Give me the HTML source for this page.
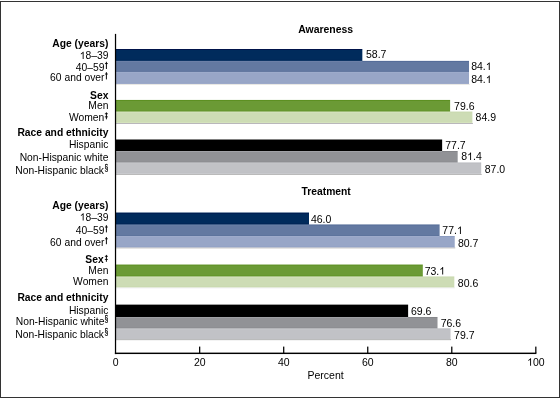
<!DOCTYPE html>
<html><head><meta charset="utf-8"><style>
html,body{margin:0;padding:0;background:#fff;}
svg{display:block;will-change:transform;}
text{font-family:"Liberation Sans",sans-serif;fill:#000;}
</style></head><body>
<svg width="560" height="398" viewBox="0 0 560 398">
<rect x="0" y="0" width="560" height="398" fill="#fff"/>
<g shape-rendering="crispEdges" fill="#333">
<rect x="0" y="1" width="560" height="1"/>
<rect x="0" y="397" width="560" height="1"/>
<rect x="0" y="1" width="1" height="397"/>
<rect x="559" y="1" width="1" height="397"/>
</g>
<g shape-rendering="crispEdges">
<rect x="116" y="49" width="246" height="1" fill="#00134a"/>
<rect x="362" y="49" width="1" height="1" fill="#9fafc1"/>
<rect x="116" y="50" width="246" height="9" fill="#002b5c"/>
<rect x="362" y="50" width="1" height="9" fill="#a8b7c8"/>
<rect x="116" y="59" width="246" height="1" fill="#00295a"/>
<rect x="362" y="59" width="1" height="1" fill="#aab8c8"/>
<rect x="116" y="60" width="246" height="1" fill="#0d3565"/>
<rect x="362" y="60" width="1" height="1" fill="#9fafc2"/>
<rect x="363" y="60" width="106" height="1" fill="#eaedf3"/>
<rect x="116" y="61" width="246" height="1" fill="#6c80a7"/>
<rect x="362" y="61" width="1" height="1" fill="#5d739e"/>
<rect x="363" y="61" width="106" height="1" fill="#556d99"/>
<rect x="469" y="61" width="1" height="1" fill="#fcfcfd"/>
<rect x="116" y="62" width="353" height="8" fill="#6379a1"/>
<rect x="469" y="62" width="1" height="8" fill="#fcfcfd"/>
<rect x="116" y="70" width="353" height="1" fill="#6278a1"/>
<rect x="469" y="70" width="1" height="1" fill="#fcfcfd"/>
<rect x="116" y="71" width="353" height="1" fill="#6479a1"/>
<rect x="469" y="71" width="1" height="1" fill="#fcfcfd"/>
<rect x="116" y="72" width="353" height="1" fill="#9dabcb"/>
<rect x="469" y="72" width="1" height="1" fill="#fdfdfe"/>
<rect x="116" y="73" width="353" height="9" fill="#98a6c7"/>
<rect x="469" y="73" width="1" height="9" fill="#fdfdfe"/>
<rect x="116" y="82" width="353" height="1" fill="#97a5c6"/>
<rect x="469" y="82" width="1" height="1" fill="#fdfdfe"/>
<rect x="116" y="83" width="353" height="1" fill="#9ca9ca"/>
<rect x="469" y="83" width="1" height="1" fill="#fdfdfe"/>
<rect x="116" y="84" width="353" height="1" fill="#e9e8e4"/>
<rect x="469" y="84" width="1" height="1" fill="#efefef"/>
<rect x="116" y="99" width="334" height="1" fill="#f4f8f1"/>
<rect x="450" y="99" width="1" height="1" fill="#fefefd"/>
<rect x="116" y="100" width="334" height="1" fill="#5d9022"/>
<rect x="450" y="100" width="1" height="1" fill="#ecf2e4"/>
<rect x="116" y="101" width="334" height="9" fill="#6b9a35"/>
<rect x="450" y="101" width="1" height="9" fill="#edf3e7"/>
<rect x="116" y="110" width="334" height="1" fill="#65962e"/>
<rect x="450" y="110" width="1" height="1" fill="#eff4ea"/>
<rect x="116" y="111" width="334" height="1" fill="#9cbb75"/>
<rect x="450" y="111" width="1" height="1" fill="#dde7ce"/>
<rect x="451" y="111" width="21" height="1" fill="#e6eeda"/>
<rect x="472" y="111" width="1" height="1" fill="#f5f8f1"/>
<rect x="116" y="112" width="334" height="1" fill="#d3e0bc"/>
<rect x="450" y="112" width="1" height="1" fill="#cbdbb2"/>
<rect x="451" y="112" width="21" height="1" fill="#cadab1"/>
<rect x="472" y="112" width="1" height="1" fill="#ebf1e1"/>
<rect x="116" y="113" width="356" height="8" fill="#cddcb5"/>
<rect x="472" y="113" width="1" height="8" fill="#ecf2e3"/>
<rect x="116" y="121" width="356" height="1" fill="#cddcb4"/>
<rect x="472" y="121" width="1" height="1" fill="#ecf2e3"/>
<rect x="116" y="122" width="356" height="1" fill="#d4e2bc"/>
<rect x="472" y="122" width="1" height="1" fill="#edf3e4"/>
<rect x="116" y="123" width="356" height="1" fill="#b9b7bb"/>
<rect x="472" y="123" width="1" height="1" fill="#bfbfc0"/>
<rect x="116" y="139" width="326" height="1" fill="#808080"/>
<rect x="442" y="139" width="1" height="1" fill="#ededed"/>
<rect x="116" y="140" width="326" height="1" fill="#000000"/>
<rect x="442" y="140" width="1" height="1" fill="#d9d9d9"/>
<rect x="116" y="141" width="326" height="9" fill="#000000"/>
<rect x="442" y="141" width="1" height="9" fill="#dbdbdb"/>
<rect x="116" y="150" width="326" height="1" fill="#000000"/>
<rect x="442" y="150" width="1" height="1" fill="#e4e4e3"/>
<rect x="116" y="151" width="326" height="1" fill="#a1a2a7"/>
<rect x="442" y="151" width="1" height="1" fill="#898a8e"/>
<rect x="443" y="151" width="14" height="1" fill="#85868a"/>
<rect x="457" y="151" width="1" height="1" fill="#acadb0"/>
<rect x="116" y="152" width="341" height="9" fill="#919296"/>
<rect x="457" y="152" width="1" height="9" fill="#b4b5b8"/>
<rect x="116" y="161" width="341" height="1" fill="#8e8f93"/>
<rect x="457" y="161" width="1" height="1" fill="#b3b4b7"/>
<rect x="116" y="162" width="341" height="1" fill="#afb0b4"/>
<rect x="457" y="162" width="1" height="1" fill="#bcbdc1"/>
<rect x="458" y="162" width="23" height="1" fill="#d8d9dc"/>
<rect x="481" y="162" width="1" height="1" fill="#f7f7f8"/>
<rect x="116" y="163" width="341" height="1" fill="#c3c4c8"/>
<rect x="457" y="163" width="1" height="1" fill="#c2c3c7"/>
<rect x="458" y="163" width="23" height="1" fill="#bebfc3"/>
<rect x="481" y="163" width="1" height="1" fill="#f2f2f3"/>
<rect x="116" y="164" width="365" height="8" fill="#c1c2c6"/>
<rect x="481" y="164" width="1" height="8" fill="#f3f3f4"/>
<rect x="116" y="172" width="365" height="1" fill="#c0c1c5"/>
<rect x="481" y="172" width="1" height="1" fill="#f3f3f4"/>
<rect x="116" y="173" width="365" height="1" fill="#c8c9cd"/>
<rect x="481" y="173" width="1" height="1" fill="#f3f3f4"/>
<rect x="116" y="174" width="365" height="1" fill="#bababa"/>
<rect x="481" y="174" width="1" height="1" fill="#cccccc"/>
<rect x="116" y="212" width="193" height="1" fill="#8095ae"/>
<rect x="116" y="213" width="193" height="1" fill="#001f53"/>
<rect x="116" y="214" width="193" height="9" fill="#002b5c"/>
<rect x="116" y="223" width="193" height="1" fill="#002657"/>
<rect x="116" y="224" width="193" height="1" fill="#3e5c87"/>
<rect x="309" y="224" width="130" height="1" fill="#9eacc4"/>
<rect x="439" y="224" width="1" height="1" fill="#c3cbdb"/>
<rect x="116" y="225" width="193" height="1" fill="#677da4"/>
<rect x="309" y="225" width="130" height="1" fill="#5c739d"/>
<rect x="439" y="225" width="1" height="1" fill="#9aa8c2"/>
<rect x="116" y="226" width="323" height="9" fill="#6379a1"/>
<rect x="439" y="226" width="1" height="9" fill="#9eacc5"/>
<rect x="116" y="235" width="323" height="1" fill="#5d749d"/>
<rect x="439" y="235" width="1" height="1" fill="#9fadc4"/>
<rect x="116" y="236" width="323" height="1" fill="#9eabcb"/>
<rect x="439" y="236" width="1" height="1" fill="#97a5c7"/>
<rect x="440" y="236" width="14" height="1" fill="#8c9cc1"/>
<rect x="454" y="236" width="1" height="1" fill="#aab6d1"/>
<rect x="116" y="237" width="338" height="9" fill="#98a6c7"/>
<rect x="454" y="237" width="1" height="9" fill="#b3bdd6"/>
<rect x="116" y="246" width="338" height="1" fill="#94a3c6"/>
<rect x="454" y="246" width="1" height="1" fill="#b1bcd6"/>
<rect x="116" y="247" width="338" height="1" fill="#bdc2cf"/>
<rect x="454" y="247" width="1" height="1" fill="#c2c6cf"/>
<rect x="455" y="247" width="1" height="1" fill="#f4f4f4"/>
<rect x="116" y="248" width="338" height="1" fill="#e5e4e3"/>
<rect x="454" y="248" width="1" height="1" fill="#e4e4e3"/>
<rect x="455" y="248" width="1" height="1" fill="#f8f8f8"/>
<rect x="116" y="264" width="306" height="1" fill="#b5cc9a"/>
<rect x="422" y="264" width="1" height="1" fill="#c2d6ac"/>
<rect x="116" y="265" width="306" height="1" fill="#63942a"/>
<rect x="422" y="265" width="1" height="1" fill="#7fa850"/>
<rect x="116" y="266" width="306" height="9" fill="#6b9a35"/>
<rect x="422" y="266" width="1" height="9" fill="#86ac59"/>
<rect x="116" y="275" width="306" height="1" fill="#64962c"/>
<rect x="422" y="275" width="1" height="1" fill="#81a953"/>
<rect x="116" y="276" width="306" height="1" fill="#a8c385"/>
<rect x="422" y="276" width="1" height="1" fill="#b2ca92"/>
<rect x="423" y="276" width="31" height="1" fill="#e0e9d1"/>
<rect x="454" y="276" width="1" height="1" fill="#f5f8f0"/>
<rect x="116" y="277" width="306" height="1" fill="#d1dfbb"/>
<rect x="422" y="277" width="1" height="1" fill="#d0deb9"/>
<rect x="423" y="277" width="31" height="1" fill="#cbdab2"/>
<rect x="454" y="277" width="1" height="1" fill="#eef3e6"/>
<rect x="116" y="278" width="338" height="8" fill="#cddcb5"/>
<rect x="454" y="278" width="1" height="8" fill="#eff4e7"/>
<rect x="116" y="286" width="338" height="1" fill="#cadab1"/>
<rect x="454" y="286" width="1" height="1" fill="#eff4e7"/>
<rect x="116" y="287" width="338" height="1" fill="#e4eadb"/>
<rect x="454" y="287" width="1" height="1" fill="#eff1ed"/>
<rect x="116" y="288" width="338" height="1" fill="#f8f8fa"/>
<rect x="454" y="288" width="1" height="1" fill="#f9f9f9"/>
<rect x="116" y="304" width="292" height="1" fill="#9f9f9f"/>
<rect x="408" y="304" width="1" height="1" fill="#f3f3f3"/>
<rect x="116" y="305" width="292" height="1" fill="#000000"/>
<rect x="408" y="305" width="1" height="1" fill="#dedede"/>
<rect x="116" y="306" width="292" height="9" fill="#000000"/>
<rect x="408" y="306" width="1" height="9" fill="#e0e0e0"/>
<rect x="116" y="315" width="292" height="1" fill="#000000"/>
<rect x="408" y="315" width="1" height="1" fill="#e1e1e1"/>
<rect x="116" y="316" width="292" height="1" fill="#010102"/>
<rect x="408" y="316" width="1" height="1" fill="#e0e0e0"/>
<rect x="409" y="316" width="29" height="1" fill="#fefefe"/>
<rect x="116" y="317" width="292" height="1" fill="#a0a1a5"/>
<rect x="408" y="317" width="1" height="1" fill="#898a8e"/>
<rect x="409" y="317" width="28" height="1" fill="#86878b"/>
<rect x="437" y="317" width="1" height="1" fill="#c0c1c3"/>
<rect x="116" y="318" width="321" height="9" fill="#919296"/>
<rect x="437" y="318" width="1" height="9" fill="#c6c6c8"/>
<rect x="116" y="327" width="321" height="1" fill="#8d8e92"/>
<rect x="437" y="327" width="1" height="1" fill="#c6c7c9"/>
<rect x="116" y="328" width="321" height="1" fill="#b5b6ba"/>
<rect x="437" y="328" width="1" height="1" fill="#c2c3c7"/>
<rect x="438" y="328" width="12" height="1" fill="#d1d2d5"/>
<rect x="450" y="328" width="1" height="1" fill="#e6e6e8"/>
<rect x="116" y="329" width="321" height="1" fill="#c3c4c8"/>
<rect x="437" y="329" width="1" height="1" fill="#c1c2c6"/>
<rect x="438" y="329" width="12" height="1" fill="#bfc0c4"/>
<rect x="450" y="329" width="1" height="1" fill="#dcdddf"/>
<rect x="116" y="330" width="334" height="8" fill="#c1c2c6"/>
<rect x="450" y="330" width="1" height="8" fill="#dedee0"/>
<rect x="116" y="338" width="334" height="1" fill="#c1c2c6"/>
<rect x="450" y="338" width="1" height="1" fill="#e1e1e4"/>
<rect x="116" y="339" width="334" height="1" fill="#bbbcbc"/>
<rect x="450" y="339" width="1" height="1" fill="#b8b8b8"/>
<rect x="451" y="339" width="1" height="1" fill="#fcfcfc"/>
<rect x="116" y="340" width="335" height="1" fill="#f3f3f3"/>
</g>
<text x="108.4" y="46.7" text-anchor="end" font-weight="bold" font-size="10.3">Age (years)</text>
<text x="108.4" y="59.0" text-anchor="end" font-size="10.3"> 8–39</text><path transform="translate(79.76 59.0) scale(10.3)" d="M 0.373 0 L 0.285 0 L 0.285 -0.560 Q 0.25 -0.525 0.19 -0.49 Q 0.14 -0.46 0.109 -0.445 L 0.109 -0.530 Q 0.19 -0.57 0.25 -0.635 Q 0.3 -0.69 0.316 -0.716 L 0.373 -0.716 Z"/>
<text x="104.4" y="70.8" text-anchor="end" font-size="10.3">40–59</text>
<rect x="105.9" y="61.80" width="0.95" height="7.2" fill="#000"/><rect x="104.95" y="63.20" width="2.85" height="0.85" fill="#000"/>
<text x="104.5" y="81.2" text-anchor="end" font-size="10.3">60 and over</text>
<rect x="105.9" y="72.20" width="0.95" height="7.2" fill="#000"/><rect x="104.95" y="73.60" width="2.85" height="0.85" fill="#000"/>
<text x="108.4" y="99.0" text-anchor="end" font-weight="bold" font-size="10.3">Sex</text>
<text x="108.4" y="109.1" text-anchor="end" font-size="10.3">Men</text>
<text x="104.3" y="120.8" text-anchor="end" font-size="10.3">Women</text>
<rect x="105.9" y="112.40" width="0.95" height="6.9" fill="#000"/><rect x="104.85" y="113.35" width="3.0" height="0.85" fill="#000"/><rect x="104.85" y="116.45" width="3.0" height="0.85" fill="#000"/>
<text x="108.4" y="136.3" text-anchor="end" font-weight="bold" font-size="10.3">Race and ethnicity</text>
<text x="108.4" y="148.1" text-anchor="end" font-size="10.3">Hispanic</text>
<text x="108.4" y="160.7" text-anchor="end" font-size="10.3">Non-Hispanic white</text>
<text x="104.0" y="173.6" text-anchor="end" font-size="10.3">Non-Hispanic black</text>
<text transform="translate(104.62 170.51) scale(0.82 1)" font-size="8.2" stroke="#000" stroke-width="0.25">§</text>
<text x="108.4" y="208.6" text-anchor="end" font-weight="bold" font-size="10.3">Age (years)</text>
<text x="108.4" y="220.6" text-anchor="end" font-size="10.3"> 8–39</text><path transform="translate(79.76 220.6) scale(10.3)" d="M 0.373 0 L 0.285 0 L 0.285 -0.560 Q 0.25 -0.525 0.19 -0.49 Q 0.14 -0.46 0.109 -0.445 L 0.109 -0.530 Q 0.19 -0.57 0.25 -0.635 Q 0.3 -0.69 0.316 -0.716 L 0.373 -0.716 Z"/>
<text x="104.4" y="234.2" text-anchor="end" font-size="10.3">40–59</text>
<rect x="105.9" y="225.20" width="0.95" height="7.2" fill="#000"/><rect x="104.95" y="226.60" width="2.85" height="0.85" fill="#000"/>
<text x="104.5" y="246.0" text-anchor="end" font-size="10.3">60 and over</text>
<rect x="105.9" y="237.00" width="0.95" height="7.2" fill="#000"/><rect x="104.95" y="238.40" width="2.85" height="0.85" fill="#000"/>
<text x="103.7" y="263.3" text-anchor="end" font-weight="bold" font-size="10.3">Sex</text>
<rect x="105.9" y="254.90" width="0.95" height="6.9" fill="#000"/><rect x="104.85" y="255.85" width="3.0" height="0.85" fill="#000"/><rect x="104.85" y="258.95" width="3.0" height="0.85" fill="#000"/>
<text x="108.4" y="273.9" text-anchor="end" font-size="10.3">Men</text>
<text x="108.4" y="284.9" text-anchor="end" font-size="10.3">Women</text>
<text x="108.4" y="301.4" text-anchor="end" font-weight="bold" font-size="10.3">Race and ethnicity</text>
<text x="108.4" y="314.1" text-anchor="end" font-size="10.3">Hispanic</text>
<text x="104.45" y="325.2" text-anchor="end" font-size="10.3">Non-Hispanic white</text>
<text transform="translate(104.62 322.11) scale(0.82 1)" font-size="8.2" stroke="#000" stroke-width="0.25">§</text>
<text x="104.0" y="338.0" text-anchor="end" font-size="10.3">Non-Hispanic black</text>
<text transform="translate(104.62 334.91) scale(0.82 1)" font-size="8.2" stroke="#000" stroke-width="0.25">§</text>
<text x="366.0" y="58.3" font-size="10.5">58.7</text>
<text x="471.2" y="69.9" font-size="10.5">84. </text><path transform="translate(485.80 69.9) scale(10.5)" d="M 0.373 0 L 0.285 0 L 0.285 -0.560 Q 0.25 -0.525 0.19 -0.49 Q 0.14 -0.46 0.109 -0.445 L 0.109 -0.530 Q 0.19 -0.57 0.25 -0.635 Q 0.3 -0.69 0.316 -0.716 L 0.373 -0.716 Z"/>
<text x="471.2" y="83.1" font-size="10.5">84. </text><path transform="translate(485.80 83.1) scale(10.5)" d="M 0.373 0 L 0.285 0 L 0.285 -0.560 Q 0.25 -0.525 0.19 -0.49 Q 0.14 -0.46 0.109 -0.445 L 0.109 -0.530 Q 0.19 -0.57 0.25 -0.635 Q 0.3 -0.69 0.316 -0.716 L 0.373 -0.716 Z"/>
<text x="454.1" y="110.4" font-size="10.5">79.6</text>
<text x="475.6" y="121.0" font-size="10.5">84.9</text>
<text x="445.25" y="149.3" font-size="10.5">77.7</text>
<text x="461.3" y="160.1" font-size="10.5">8 .4</text><path transform="translate(467.14 160.1) scale(10.5)" d="M 0.373 0 L 0.285 0 L 0.285 -0.560 Q 0.25 -0.525 0.19 -0.49 Q 0.14 -0.46 0.109 -0.445 L 0.109 -0.530 Q 0.19 -0.57 0.25 -0.635 Q 0.3 -0.69 0.316 -0.716 L 0.373 -0.716 Z"/>
<text x="484.75" y="172.9" font-size="10.5">87.0</text>
<text x="310.95" y="222.7" font-size="10.5">46.0</text>
<text x="442.35" y="234.0" font-size="10.5">77. </text><path transform="translate(456.95 234.0) scale(10.5)" d="M 0.373 0 L 0.285 0 L 0.285 -0.560 Q 0.25 -0.525 0.19 -0.49 Q 0.14 -0.46 0.109 -0.445 L 0.109 -0.530 Q 0.19 -0.57 0.25 -0.635 Q 0.3 -0.69 0.316 -0.716 L 0.373 -0.716 Z"/>
<text x="457.95" y="246.8" font-size="10.5">80.7</text>
<text x="424.65" y="274.6" font-size="10.5">73. </text><path transform="translate(439.25 274.6) scale(10.5)" d="M 0.373 0 L 0.285 0 L 0.285 -0.560 Q 0.25 -0.525 0.19 -0.49 Q 0.14 -0.46 0.109 -0.445 L 0.109 -0.530 Q 0.19 -0.57 0.25 -0.635 Q 0.3 -0.69 0.316 -0.716 L 0.373 -0.716 Z"/>
<text x="457.85" y="286.6" font-size="10.5">80.6</text>
<text x="411.0" y="314.7" font-size="10.5">69.6</text>
<text x="440.65" y="327.1" font-size="10.5">76.6</text>
<text x="454.1" y="339.3" font-size="10.5">79.7</text>
<text x="325.7" y="32.7" text-anchor="middle" font-weight="bold" font-size="10.45">Awareness</text>
<text x="326.2" y="194.9" text-anchor="middle" font-weight="bold" font-size="10.3">Treatment</text>
<rect x="114.9" y="33.9" width="1.25" height="320.2" fill="#000"/>
<rect x="114.9" y="352.6" width="421.5" height="1.45" fill="#000"/>
<rect x="199.04" y="346.6" width="1.25" height="6.5" fill="#000"/>
<rect x="283.08" y="346.6" width="1.25" height="6.5" fill="#000"/>
<rect x="367.12" y="346.6" width="1.25" height="6.5" fill="#000"/>
<rect x="451.16" y="346.6" width="1.25" height="6.5" fill="#000"/>
<rect x="535.20" y="346.6" width="1.25" height="6.5" fill="#000"/>
<text x="115.7" y="365.7" text-anchor="middle" font-size="10.5">0</text>
<text x="199.74" y="365.7" text-anchor="middle" font-size="10.5">20</text>
<text x="283.78" y="365.7" text-anchor="middle" font-size="10.5">40</text>
<text x="367.82" y="365.7" text-anchor="middle" font-size="10.5">60</text>
<text x="451.86" y="365.7" text-anchor="middle" font-size="10.5">80</text>
<text x="535.9" y="365.7" text-anchor="middle" font-size="10.5"> 00</text><path transform="translate(527.14 365.7) scale(10.5)" d="M 0.373 0 L 0.285 0 L 0.285 -0.560 Q 0.25 -0.525 0.19 -0.49 Q 0.14 -0.46 0.109 -0.445 L 0.109 -0.530 Q 0.19 -0.57 0.25 -0.635 Q 0.3 -0.69 0.316 -0.716 L 0.373 -0.716 Z"/>
<text x="325.6" y="378.9" text-anchor="middle" font-size="10.5">Percent</text>
</svg>
</body></html>
